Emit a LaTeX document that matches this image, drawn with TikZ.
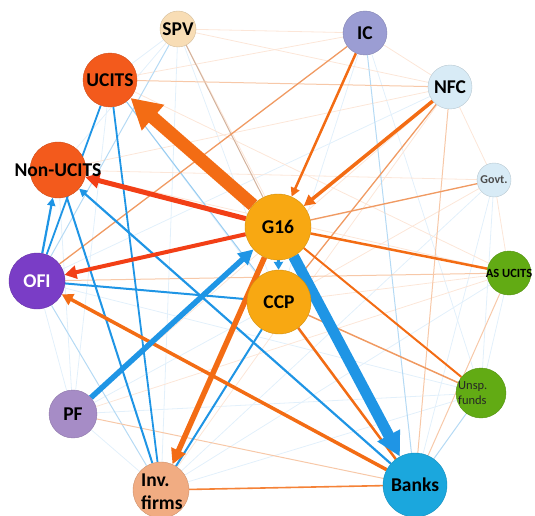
\documentclass[tikz,border=0pt]{standalone}
\usepackage{fontspec}
\setmainfont{Carlito}
\usetikzlibrary{arrows.meta}
\pgfdeclarelayer{edges}
\pgfsetlayers{edges,main}
\definecolor{nOr}{HTML}{F35A1C}
\definecolor{nAmb}{HTML}{F8A812}
\definecolor{nOFI}{HTML}{7A3DC6}
\definecolor{nPF}{HTML}{A68CC6}
\definecolor{nIC}{HTML}{9B9DD3}
\definecolor{nNFC}{HTML}{D8EBF6}
\definecolor{nSPV}{HTML}{F8DDB5}
\definecolor{nGr}{HTML}{62AB14}
\definecolor{nBanks}{HTML}{1BA7DD}
\definecolor{nInv}{HTML}{F1AC82}
\definecolor{eOr}{HTML}{F36C14}
\definecolor{eRed}{HTML}{F23F16}
\definecolor{eBlue}{HTML}{1F95E5}
\definecolor{eMidOr}{HTML}{F09A62}
\definecolor{ePaleB}{HTML}{B5DAF4}
\definecolor{ePaleO}{HTML}{F7C8A8}
\definecolor{eFaintB}{HTML}{E2F0FB}
\definecolor{eFaintO}{HTML}{FCE6D8}
\newcommand{\mklbl}[1]{\makebox[0pt]{#1}}
\tikzset{
  nd/.style 2 args={circle, inner sep=0pt, minimum size=#1, fill=#2, draw=#2!85!black, line width=0.4pt,
     font=\bfseries\fontsize{19.5}{22}\selectfont},
  lbl/.style={inner sep=0pt, font=\bfseries\fontsize{19.5}{23}\selectfont},
  small/.style={inner sep=0pt, font=\fontsize{12.5}{14}\selectfont},
  fb/.style={draw=eFaintB, line width=0.8pt},
  fo/.style={draw=eFaintO, line width=0.8pt},
  pb/.style={draw=ePaleB, line width=1pt},
  po/.style={draw=ePaleO, line width=1pt},
}
\begin{document}
\begin{tikzpicture}[x=1pt,y=-1pt]
\useasboundingbox (0,0) rectangle (535,516);
% nodes
\node[nd={36pt}{nSPV}] (spv) at (178,29) {\mklbl{SPV}};
\node[nd={54pt}{nOr}] (ucits) at (110,80) {\mklbl{UCITS}};
\node[nd={44pt}{nIC}] (ic) at (365,33) {\mklbl{IC}};
\node[nd={44pt}{nNFC}] (nfc) at (450,87) {\mklbl{NFC}};
\node[nd={34pt}{nNFC}, font=\bfseries\fontsize{12}{14}\selectfont, text=black!70] (govt) at (494,180) {\mklbl{Govt.}};
\node[nd={56pt}{nOr}] (nonucits) at (58,170) {\mklbl{Non-UCITS}};
\node[nd={66pt}{nAmb}] (g16) at (278,227) {\mklbl{G16}};
\node[nd={56pt}{nOFI}, text=white] (ofi) at (37,281) {\mklbl{OFI}};
\node[nd={64pt}{nAmb}] (ccp) at (279,302) {\mklbl{CCP}};
\node[nd={44pt}{nGr}, font=\bfseries\fontsize{12.5}{14}\selectfont] (asucits) at (509,273) {\mklbl{AS UCITS}};
\node[nd={50pt}{nGr}] (unsp) at (481,393) {};
\node[nd={48pt}{nPF}] (pf) at (73,414) {\mklbl{PF}};
\node[nd={56pt}{nInv}] (inv) at (161,490) {};
\node[nd={64pt}{nBanks}] (banks) at (415,485) {\mklbl{Banks}};
\node[lbl, anchor=base west] (invA) at (141,486) {Inv.};
\node[lbl, anchor=base west] (invB) at (141,509) {firms};
\node[small, anchor=base west, text=black!85] (unspA) at (458,389) {Unsp.};
\node[small, anchor=base west, text=black!85] (unspB) at (458,404) {funds};
\begin{pgfonlayer}{edges}
% faint web
\draw[fb] (spv) -- (ucits);
\draw[fb] (spv) -- (nonucits);
\draw[fb] (ofi) -- (pf);
\draw[fb] (pf) -- (inv);
\draw[fb] (nonucits) -- (pf);
\draw[fb] (ucits) -- (pf);
\draw[fb] (spv) -- (ccp);
\draw[fb] (ic) -- (ccp);
\draw[fb] (govt) -- (banks);
\draw[fb] (govt) -- (unsp);
\draw[fb] (asucits) -- (unsp);
\draw[fb] (unsp) -- (inv);
\draw[fb] (asucits) -- (inv);
\draw[fb] (pf) -- (unsp);
\draw[fb] (pf) -- (ccp);
\draw[fb] (ofi) -- (unsp);
\draw[fb] (inv) -- (govt);
\draw[fb] (ucits) -- (banks);
\draw[fb] (ic) -- (unsp);
\draw[fb] (spv) -- (inv);
\draw[fb] (ofi) -- (nfc);
\draw[fo] (spv) -- (ic);
\draw[fo] (spv) -- (nfc);
\draw[fo] (nonucits) -- (nfc);
\draw[fo] (nonucits) -- (govt);
\draw[fo] (ucits) -- (ic);
\draw[fo] (ofi) -- (govt);
\draw[fo] (pf) -- (asucits);
\draw[fo] (inv) -- (nfc);
\draw[fo] (ucits) -- (asucits);
\draw[fo] (ic) -- (nfc);
\draw[fo] (nfc) -- (govt);
\draw[fo] (govt) -- (asucits);
\draw[fo] (spv) -- (banks);
\draw[fo] (nonucits) -- (asucits);
\draw[fo] (pf) -- (nfc);
\draw[fo] (ccp) -- (asucits);
\draw[fo] (ccp) -- (govt);
% pale lines
\draw[pb] (spv) -- (ofi);
\draw[pb] (ic) -- (banks);
\draw[pb] (unsp) -- (banks);
\draw[pb] (ofi) -- (inv);
\draw[pb, draw=ePaleB!80!eBlue] (ucits) -- (ccp);
\draw[po, draw=ePaleO!70!gray] (spv) -- (g16);
\draw[po] (ucits) -- (nfc);
\draw[po] (nfc) -- (banks);
\draw[po] (ofi) -- (asucits);
\draw[po] (asucits) -- (banks);
\draw[po] (pf) -- (banks);
\draw[po] (ccp) -- (inv);
% medium lines
\draw[eMidOr, line width=1.3pt] (ic) -- (ofi);
\draw[eMidOr, line width=1.3pt] (nfc) -- (ccp);
\draw[eMidOr, line width=1.3pt] (govt) -- (g16);
\draw[eMidOr, line width=1.5pt] (ccp) -- (unsp);
\draw[eOr!85!white, line width=1.6pt] (inv) -- (banks);
\draw[eOr, line width=2.5pt] (g16) -- (asucits);
\draw[eOr, line width=2pt] (g16) -- (unsp);
\draw[eOr, line width=2.5pt] (ccp) -- (banks);
\draw[eBlue, line width=1.8pt] (ucits) -- (ofi);
\draw[eBlue, line width=1.8pt] (ucits) -- (inv);
\draw[eBlue, line width=2pt] (nonucits) -- (inv);
\draw[eBlue, line width=2pt] (ofi) -- (ccp);
\draw[eBlue, line width=2pt] (ccp) -- (inv);
\draw[eBlue, line width=2.2pt, -{Triangle[length=8pt,width=8pt]}] (banks) -- (nonucits);
\draw[eBlue, line width=2.2pt, -{Triangle[length=8pt,width=8pt]}] (ofi) -- (nonucits);
% heavy arrows
\draw[eOr, line width=2.5pt, -{Triangle[length=9pt,width=9pt]}] (ic) -- (g16);
\draw[eOr, line width=3.5pt, -{Triangle[length=11pt,width=11pt]}] (nfc) -- (g16);
\draw[eOr, line width=3.5pt, -{Triangle[length=11pt,width=12pt]}] (banks) -- (ofi);
\draw[eBlue, line width=3pt, -{Triangle[length=8pt,width=9pt]}] (g16) -- (ccp);
\draw[eOr, line width=5.5pt, -{Triangle[length=15pt,width=15pt]}] (g16) -- (inv);
\draw[eBlue, line width=5.5pt, -{Triangle[length=15pt,width=15pt]}] (pf) -- (g16);
\draw[eRed, line width=4pt, -{Triangle[length=12pt,width=13pt]}] (g16) -- (ofi);
\draw[eRed, line width=5pt, -{Triangle[length=14pt,width=15pt]}] (g16) -- (nonucits);
\draw[eBlue, line width=11pt, -{Triangle[length=24pt,width=24pt]}] (g16) -- (banks);
\draw[eOr, line width=13pt, -{Triangle[length=30pt,width=32pt]}] (g16) -- (ucits);
\end{pgfonlayer}
\end{tikzpicture}
\end{document}
